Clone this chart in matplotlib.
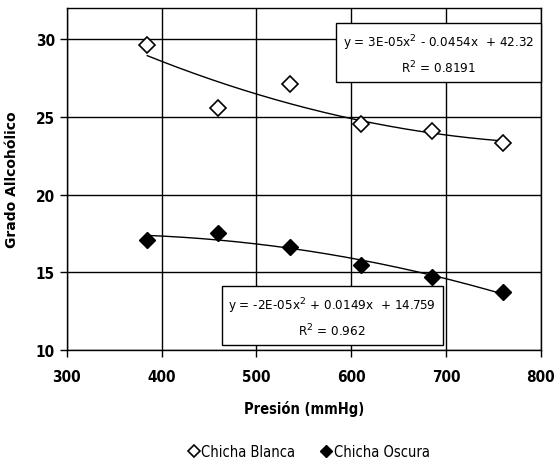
import numpy as np
import matplotlib
matplotlib.use("Agg")
import matplotlib.pyplot as plt
from matplotlib import font_manager
from matplotlib.font_manager import FontProperties

presion = [385, 460, 535, 610, 685, 760]
blanca = [29.6, 25.55, 27.1, 24.55, 24.1, 23.3]
oscura = [17.1, 17.55, 16.6, 15.5, 14.7, 13.75]
series_names = ["Chicha Blanca", "Chicha Oscura"]
eq_blanca = "y = 3E-05x$^2$ - 0.0454x  + 42.32\nR$^2$ = 0.8191"
eq_oscura = "y = -2E-05x$^2$ + 0.0149x  + 14.759\nR$^2$ = 0.962"
xticks = [300, 400, 500, 600, 700, 800]
yticks = [10, 15, 20, 25, 30]

# find a condensed font file
cond_reg = None
cond_bold = None
for f in font_manager.fontManager.ttflist:
    fn = f.fname.lower()
    if 'liberationsansnarrow-regular' in fn:
        cond_reg = f.fname
    if 'liberationsansnarrow-bold.' in fn:
        cond_bold = f.fname
if cond_reg is None:
    for f in font_manager.fontManager.ttflist:
        fn = f.fname.lower()
        if fn.endswith('dejavusanscondensed.ttf'):
            cond_reg = f.fname
        if fn.endswith('dejavusanscondensed-bold.ttf'):
            cond_bold = f.fname

def fp(size, bold=False):
    path = cond_bold if bold else cond_reg
    if path:
        return FontProperties(fname=path, size=size)
    return FontProperties(family='DejaVu Sans', size=size,
                          weight='bold' if bold else 'normal', stretch='condensed')

if cond_reg:
    name = font_manager.FontProperties(fname=cond_reg).get_name()
    plt.rcParams['mathtext.fontset'] = 'custom'
    plt.rcParams['mathtext.rm'] = name

fig = plt.figure(figsize=(5.57, 4.64), dpi=100)
ax = fig.add_axes([0.1197, 0.2435, 0.8513, 0.7371])

ax.set_xlim(300, 800)
ax.set_ylim(10, 32)
ax.set_xticks(xticks)
ax.set_yticks(yticks)
ax.grid(True, color='black', linewidth=1.0)
ax.set_axisbelow(True)
for s in ax.spines.values():
    s.set_color('black')
    s.set_linewidth(1.0)
ax.tick_params(axis='both', direction='out', length=5, width=1, colors='black')
ax.tick_params(axis='x', pad=9)
for lab in ax.get_xticklabels() + ax.get_yticklabels():
    lab.set_fontproperties(fp(11, bold=True))

x = np.array(presion, dtype=float)
xs = np.linspace(x.min(), x.max(), 200)
for ys in (blanca, oscura):
    c = np.polyfit(x, ys, 2)
    ax.plot(xs, np.polyval(c, xs), color='black', linewidth=1.0, zorder=3)

ax.plot(presion, blanca, linestyle='none', marker='D', markersize=8,
        markerfacecolor='white', markeredgecolor='black', markeredgewidth=1.2,
        label=series_names[0], zorder=4)
ax.plot(presion, oscura, linestyle='none', marker='D', markersize=8,
        markerfacecolor='black', markeredgecolor='black',
        label=series_names[1], zorder=4)

box = dict(boxstyle='square,pad=0.5', facecolor='white', edgecolor='black', linewidth=1.0)
ax.text(692, 29.05, eq_blanca, ha='center', va='center', fontproperties=fp(9.6),
        linespacing=1.55, bbox=box, zorder=5)
ax.text(580, 12.13, eq_oscura, ha='center', va='center', fontproperties=fp(9.6),
        linespacing=1.55, bbox=box, zorder=5)

ax.set_xlabel("Presión (mmHg)", fontproperties=fp(10.5, bold=True), labelpad=11)
ax.set_ylabel("Grado Allcohólico", fontsize=10, fontweight='bold',
              family='DejaVu Sans', labelpad=12)

fig.legend(loc='center', bbox_to_anchor=(0.555, 0.025), ncol=2, frameon=False,
           prop=fp(10.5), handlelength=0.7, handletextpad=0.15, columnspacing=1.8,
           markerscale=0.75)

fig.savefig("out.png", dpi=100)
